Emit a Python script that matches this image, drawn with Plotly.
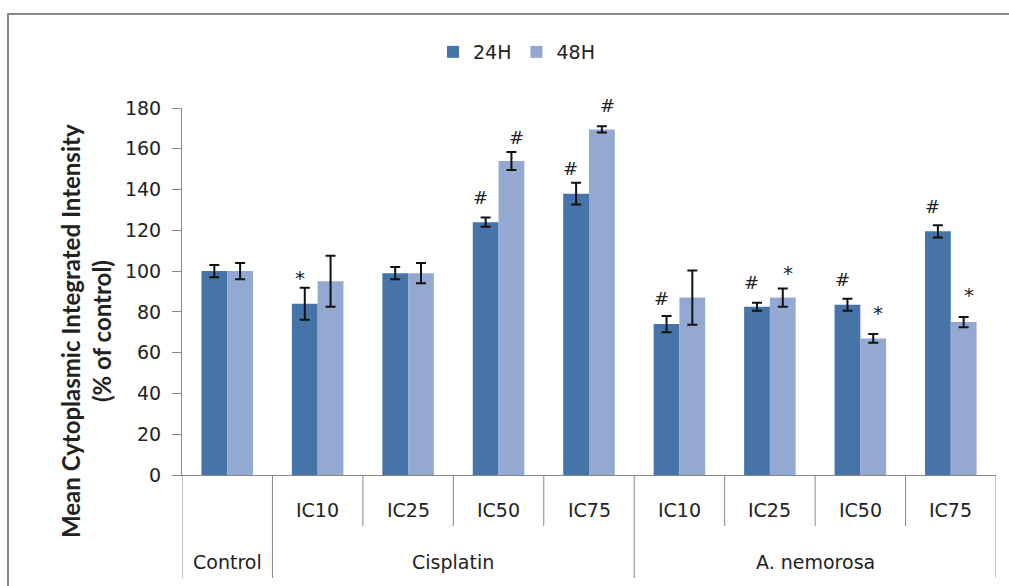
import plotly.graph_objects as go

# Treatment groups and doses along the x axis
groups = ["Control", "Cisplatin", "Cisplatin", "Cisplatin", "Cisplatin",
          "A. nemorosa", "A. nemorosa", "A. nemorosa", "A. nemorosa"]
doses = ["", "IC10", "IC25", "IC50", "IC75", "IC10", "IC25", "IC50", "IC75"]
group_names = ["Control", "Cisplatin", "A. nemorosa"]

# Mean cytoplasmic integrated intensity (% of control) and error
mean_24h = [100, 84, 99, 124, 138, 74, 82.5, 83.5, 119.5]
err_24h = [3, 7.8, 3, 2.3, 5.3, 4, 2, 3, 3]
mean_48h = [100, 95, 99, 154, 169.5, 87, 87, 67, 75]
err_48h = [4, 12.5, 5, 4.4, 1.5, 13.3, 4.5, 2.1, 2.5]

# Significance marks above each bar
sig_24h = ["", "*", "", "#", "#", "#", "#", "#", "#"]
sig_48h = ["", "", "", "#", "#", "", "*", "*", "*"]

y_ticks = [0, 20, 40, 60, 80, 100, 120, 140, 160, 180]

# Styling
C24 = "#4673A8"
C48 = "#94A9D1"
GRID = "#888888"
TXT = "#222222"
FONT = "DejaVu Sans"
W, H = 1009, 586
L, R, T, B = 182, 13, 108, 111
PH = H - T - B
PW = W - L - R

categories = [g if d == "" else g + " " + d for g, d in zip(groups, doses)]
idx = list(range(len(categories)))

fig = go.Figure()
fig.add_trace(go.Bar(
    name="24H", x=idx, y=mean_24h, marker_color=C24, marker_line_width=0,
    error_y=dict(type="data", array=err_24h, color="#111111", thickness=2, width=5),
))
fig.add_trace(go.Bar(
    name="48H", x=idx, y=mean_48h, marker_color=C48, marker_line_width=0,
    error_y=dict(type="data", array=err_48h, color="#111111", thickness=2, width=5),
))

def px2py(py):
    return (H - B - py) / PH

def px2px(px):
    return (px - L) / PW

shapes = []
annotations = []

# Category dividers below the x axis
for i in range(len(categories) + 1):
    xpos = i - 0.5
    new_group = i == 0 or i == len(categories) or groups[i] != groups[i - 1]
    y1 = px2py(578) if new_group else px2py(526)
    shapes.append(dict(type="line", xref="x", yref="paper", x0=xpos, x1=xpos,
                       y0=0, y1=y1, line=dict(color=GRID, width=1)))

# Dose labels
for i, d in enumerate(doses):
    if d:
        annotations.append(dict(x=i, y=px2py(510), xref="x", yref="paper", text=d,
                                xanchor="center", yanchor="middle",
                                showarrow=False, font=dict(family=FONT, size=19, color=TXT)))

# Group labels centred under their doses
for g in group_names:
    members = [i for i, gg in enumerate(groups) if gg == g]
    xc = (members[0] + members[-1]) / 2
    annotations.append(dict(x=xc, y=px2py(562), xref="x", yref="paper", text=g,
                            xanchor="center", yanchor="middle",
                            showarrow=False, font=dict(family=FONT, size=19, color=TXT)))

# Significance marks
gap24 = [0, 12, 0, 20, 14, 17, 20, 19, 19]
gap48 = [0, 0, 0, 15, 21, 0, 17, 23, 24]
offset = 0.2
for i in idx:
    for marks, vals, errs, gaps, dx in ((sig_24h, mean_24h, err_24h, gap24, -offset),
                                        (sig_48h, mean_48h, err_48h, gap48, offset)):
        if marks[i]:
            star = marks[i] == "*"
            annotations.append(dict(x=i + dx, y=vals[i] + errs[i], xref="x", yref="y",
                                    text=marks[i], showarrow=False,
                                    xanchor="center", yanchor="middle",
                                    yshift=gaps[i] - (2 if star else 0),
                                    font=dict(family=FONT, size=20 if star else 18,
                                              color=TXT)))

# Y axis title
annotations.append(dict(x=px2px(70), y=px2py(331), xref="paper", yref="paper",
                        text="<b>Mean Cytoplasmic Integrated Intensity</b>",
                        textangle=-90, showarrow=False, xanchor="center", yanchor="middle",
                        font=dict(family="Lato", size=24, color=TXT)))
annotations.append(dict(x=px2px(101), y=px2py(331), xref="paper", yref="paper",
                        text="<b>(% of control)</b>",
                        textangle=-90, showarrow=False, xanchor="center", yanchor="middle",
                        font=dict(family="Lato", size=24, color=TXT)))

# Outer frame
shapes.append(dict(type="path", xref="paper", yref="paper",
                   path=f"M {px2px(8)},{px2py(600)} L {px2px(8)},{px2py(14)} L {px2px(1020)},{px2py(14)}",
                   line=dict(color="#8a8a8a", width=2)))

fig.update_layout(
    width=W, height=H,
    margin=dict(l=L, r=R, t=T, b=B, pad=0),
    paper_bgcolor="white", plot_bgcolor="white",
    barmode="group", bargap=0.43, bargroupgap=0,
    font=dict(family=FONT, size=18, color=TXT),
    showlegend=True,
    legend=dict(orientation="h", x=px2px(433), y=px2py(52), xanchor="left", yanchor="middle",
                font=dict(family=FONT, size=19, color=TXT), itemwidth=30,
                bgcolor="rgba(0,0,0,0)"),
    xaxis=dict(type="linear", range=[-0.5, len(categories) - 0.5], showticklabels=False,
               showgrid=False, zeroline=False, showline=True, linecolor=GRID, linewidth=1,
               ticks=""),
    yaxis=dict(range=[0, 180], tickvals=y_ticks, showgrid=False, zeroline=False,
               showline=True, linecolor=GRID, linewidth=1, ticks="outside", ticklen=9,
               tickcolor=GRID, tickfont=dict(family=FONT, size=19, color=TXT),
               ticklabelstandoff=7),
    shapes=shapes,
    annotations=annotations,
)

fig.write_html("out.html")
